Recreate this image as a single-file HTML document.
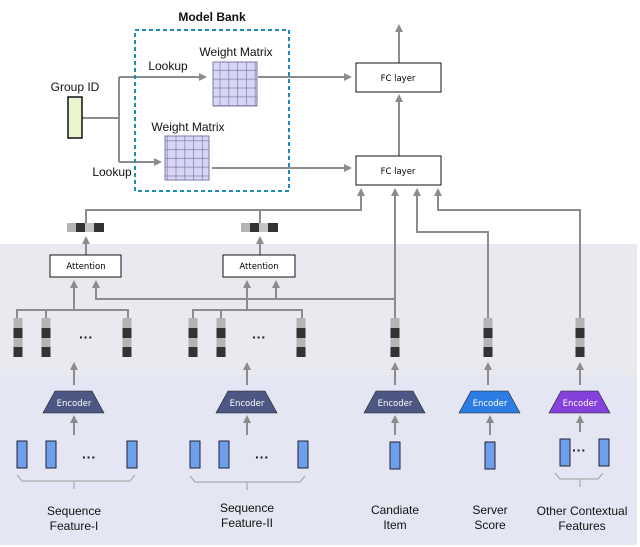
<!DOCTYPE html>
<html><head><style>
html,body{margin:0;padding:0;background:#fff;}
svg{display:block;font-family:"Liberation Sans",sans-serif;}
.c{font-family:"DejaVu Sans","Liberation Sans",sans-serif;font-size:8.5px;}
</style></head><body>
<svg width="640" height="547" viewBox="0 0 640 547" xmlns="http://www.w3.org/2000/svg">
<defs>
<marker id="a" markerWidth="8" markerHeight="8" refX="6" refY="4" orient="auto" markerUnits="userSpaceOnUse"><path d="M0,0 L8,4 L0,8 Z" fill="#8c8c8c"/></marker>
<pattern id="g" width="8.8" height="8.8" patternUnits="userSpaceOnUse"><rect width="8.8" height="8.8" fill="#d9d6f5" stroke="#7a7aa8" stroke-width="0.7"/></pattern>
<g id="stk"><rect x="-4.5" y="0" width="9" height="10" fill="#b4b4b4"/><rect x="-4.5" y="10" width="9" height="10" fill="#333"/><rect x="-4.5" y="20" width="9" height="9" fill="#b4b4b4"/><rect x="-4.5" y="29" width="9" height="10" fill="#333"/></g>
<g id="hv"><rect x="-19" y="0" width="9" height="9" fill="#b4b4b4"/><rect x="-10" y="0" width="9" height="9" fill="#333"/><rect x="-1" y="0" width="9" height="9" fill="#c4c4c4"/><rect x="8" y="0" width="10" height="9" fill="#333"/></g>
<rect id="br" x="-5" y="0" width="10" height="27" fill="#6f9fea" stroke="#223" stroke-width="1"/>
</defs>
<rect x="0" y="244" width="637" height="131" fill="#e9eaef"/>
<rect x="0" y="375" width="637" height="170" fill="#e4e7f3"/>
<g stroke="#8c8c8c" stroke-width="2" fill="none">
<!-- top section -->
<path d="M82,118 H119 M119,77 V162"/>
<path d="M119,77 H205" marker-end="url(#a)"/>
<path d="M119,162 H160" marker-end="url(#a)"/>
<path d="M258,77 H350" marker-end="url(#a)"/>
<path d="M212,168 H350" marker-end="url(#a)"/>
<path d="M399,63 V26" marker-end="url(#a)"/>
<path d="M399,156 V96" marker-end="url(#a)"/>
<path d="M86,223 V210 H361 V190" marker-end="url(#a)"/>
<path d="M260,223 V210"/>
<path d="M395,318 V190" marker-end="url(#a)"/>
<path d="M488,318 V232 H417 V190" marker-end="url(#a)"/>
<path d="M580,318 V210 H438 V190" marker-end="url(#a)"/>
<path d="M86,255 V238" marker-end="url(#a)"/>
<path d="M260,255 V238" marker-end="url(#a)"/>
<!-- attention inputs -->
<path d="M395,299 H96 V282" marker-end="url(#a)"/>
<path d="M276,299 V282" marker-end="url(#a)"/>
<path d="M17,318 V310 H128 V318 M46,310 V318 M74,310 V282" marker-end="url(#a)"/>
<path d="M193,318 V310 H302 V318 M221,310 V318 M247,310 V282" marker-end="url(#a)"/>
</g>
<g stroke="#8c8c8c" stroke-width="2" fill="none">
<path d="M74,385 V364" marker-end="url(#a)"/><path d="M247,385 V364" marker-end="url(#a)"/>
<path d="M395,385 V364" marker-end="url(#a)"/><path d="M488,385 V364" marker-end="url(#a)"/><path d="M580,385 V364" marker-end="url(#a)"/>
<path d="M74,435 V417" marker-end="url(#a)"/><path d="M247,435 V417" marker-end="url(#a)"/>
<path d="M395,435 V417" marker-end="url(#a)"/><path d="M490,435 V417" marker-end="url(#a)"/><path d="M580,432 V417" marker-end="url(#a)"/>
</g>
<!-- braces -->
<g stroke="#aaa" stroke-width="1.2" fill="none">
<path d="M17,475 L22,481 H130 L135,475 M74,481 V489"/>
<path d="M190,476 L195,482 H300 L305,476 M247,482 V490"/>
<path d="M555,473 L560,479 H598 L603,473 M580,479 V487"/>
</g>
<!-- model bank -->
<text x="212" y="21" font-size="12" font-weight="bold" text-anchor="middle" fill="#111">Model Bank</text>
<rect x="135" y="30" width="154" height="161" fill="none" stroke="#1e8bbd" stroke-width="2" stroke-dasharray="4,3"/>
<text x="75" y="91" font-size="12" text-anchor="middle" fill="#111">Group ID</text>
<rect x="68" y="97" width="14" height="41" fill="#e9f5cf" stroke="#111" stroke-width="1.5"/>
<text x="168" y="70" font-size="12" text-anchor="middle" fill="#111">Lookup</text>
<text x="112" y="176" font-size="12" text-anchor="middle" fill="#111">Lookup</text>
<text x="236" y="56" font-size="12" text-anchor="middle" fill="#111">Weight Matrix</text>
<text x="188" y="131" font-size="12" text-anchor="middle" fill="#111">Weight Matrix</text>
<rect x="213" y="62" width="44" height="44" fill="url(#g)" stroke="#7a7aa8"/>
<rect x="165" y="136" width="44" height="44" fill="url(#g)" stroke="#7a7aa8"/>
<!-- FC -->
<rect x="356" y="63" width="85" height="29" fill="#fff" stroke="#111" stroke-width="1"/>
<text x="398" y="81" class="c" text-anchor="middle">FC layer</text>
<rect x="356" y="156" width="85" height="29" fill="#fff" stroke="#111" stroke-width="1"/>
<text x="398" y="174" class="c" text-anchor="middle">FC layer</text>
<use href="#hv" x="86" y="223"/><use href="#hv" x="260" y="223"/>
<rect x="50" y="255" width="71" height="22" fill="#fff" stroke="#111"/>
<text x="86" y="269" class="c" text-anchor="middle">Attention</text>
<rect x="223" y="255" width="72" height="22" fill="#fff" stroke="#111"/>
<text x="259" y="269" class="c" text-anchor="middle">Attention</text>
<!-- stacks -->
<use href="#stk" x="18" y="318"/><use href="#stk" x="46" y="318"/><use href="#stk" x="127" y="318"/>
<use href="#stk" x="193" y="318"/><use href="#stk" x="221" y="318"/><use href="#stk" x="301" y="318"/>
<use href="#stk" x="395" y="318"/><use href="#stk" x="488" y="318"/><use href="#stk" x="580" y="318"/>
<g font-size="14" font-weight="bold" fill="#222" text-anchor="middle">
<text x="86" y="342">···</text><text x="259" y="342">···</text>
<text x="89" y="462">···</text><text x="262" y="462">···</text><text x="579" y="455">···</text>
</g>
<!-- encoders -->
<g font-family="DejaVu Sans" font-size="8.5" fill="#fff" text-anchor="middle">
<path d="M55,391 H92 L104,413 H43 Z" fill="#4d5783" stroke="#222" stroke-width="0.6"/><text x="74" y="406">Encoder</text>
<path d="M228,391 H265 L277,413 H216 Z" fill="#4d5783" stroke="#222" stroke-width="0.6"/><text x="247" y="406">Encoder</text>
<path d="M376,391 H413 L425,413 H364 Z" fill="#4d5783" stroke="#222" stroke-width="0.6"/><text x="395" y="406">Encoder</text>
<path d="M471,391 H508 L520,413 H459 Z" fill="#2d7ce3" stroke="#222" stroke-width="0.6"/><text x="490" y="406">Encoder</text>
<path d="M561,391 H598 L610,413 H549 Z" fill="#8441db" stroke="#222" stroke-width="0.6"/><text x="580" y="406">Encoder</text>
</g>
<use href="#br" x="22" y="441"/><use href="#br" x="51" y="441"/><use href="#br" x="132" y="441"/>
<use href="#br" x="195" y="441"/><use href="#br" x="224" y="441"/><use href="#br" x="303" y="441"/>
<use href="#br" x="395" y="442"/><use href="#br" x="490" y="442"/>
<use href="#br" x="565" y="439"/><use href="#br" x="604" y="439"/>
<g font-size="12" fill="#111" text-anchor="middle">
<text x="74" y="515">Sequence</text><text x="74" y="530">Feature-I</text>
<text x="247" y="512">Sequence</text><text x="247" y="527">Feature-II</text>
<text x="395" y="514">Candiate</text><text x="395" y="529">Item</text>
<text x="490" y="514">Server</text><text x="490" y="529">Score</text>
<text x="582" y="515">Other Contextual</text><text x="582" y="530">Features</text>
</g>
</svg>
</body></html>
